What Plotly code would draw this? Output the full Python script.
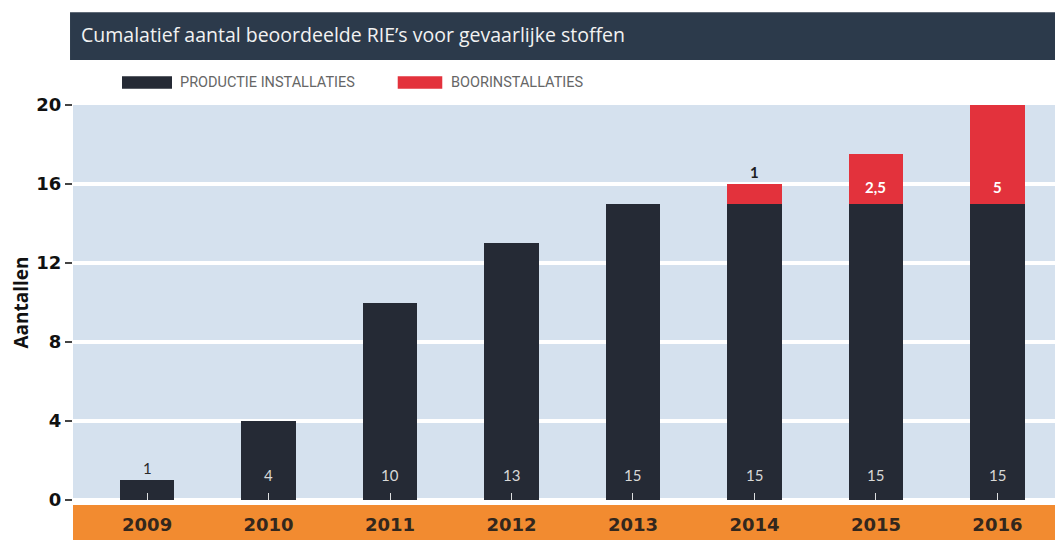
import plotly.graph_objects as go

years = ["2009", "2010", "2011", "2012", "2013", "2014", "2015", "2016"]
productie = [1, 4, 10, 13, 15, 15, 15, 15]
boor = [0, 0, 0, 0, 0, 1, 2.5, 5]
productie_labels = ["1", "4", "10", "13", "15", "15", "15", "15"]
boor_labels = ["", "", "", "", "", "1", "2,5", "5"]
y_ticks = [0, 4, 8, 12, 16, 20]

DARK = "#252a35"
RED = "#e3323c"
BG = "#d5e1ee"
ORANGE = "#f28b30"
BAND = "#2c3a4b"

fig = go.Figure()
fig.add_trace(go.Bar(x=years, y=productie, name="PRODUCTIE INSTALLATIES",
                     marker=dict(color=DARK, line=dict(width=0)), width=0.45,
                     showlegend=False))
fig.add_trace(go.Bar(x=years, y=boor, name="BOORINSTALLATIES",
                     marker=dict(color=RED, line=dict(width=0)), width=0.45,
                     showlegend=False))

annotations = []
for i, (p, lab) in enumerate(zip(productie, productie_labels)):
    if p <= 1:
        annotations.append(dict(x=i, y=p, xref="x", yref="y", text=lab, showarrow=False,
                                yanchor="bottom", yshift=1,
                                font=dict(family="Lato, Open Sans", size=15, color="#2a2a2a")))
    else:
        annotations.append(dict(x=i, y=0, xref="x", yref="y", text=lab, showarrow=False,
                                yanchor="middle", yshift=25,
                                font=dict(family="Lato, Open Sans", size=15, color="#d8d8d8")))
for i, (p, b, lab) in enumerate(zip(productie, boor, boor_labels)):
    if not lab:
        continue
    if b <= 1:
        annotations.append(dict(x=i, y=p + b, xref="x", yref="y", text="<b>" + lab + "</b>",
                                showarrow=False, yanchor="bottom", yshift=1,
                                font=dict(family="Lato, Open Sans", size=15, color="#1e1e1e")))
    else:
        annotations.append(dict(x=i, y=p, xref="x", yref="y", text="<b>" + lab + "</b>",
                                showarrow=False, yanchor="middle", yshift=17,
                                font=dict(family="Lato, Open Sans", size=15, color="white")))

# title band text
annotations.append(dict(x=0.006, y=1.178, xref="paper", yref="paper", xanchor="left",
                        yanchor="middle", showarrow=False,
                        text="Cumalatief aantal beoordeelde RIE’s voor gevaarlijke stoffen",
                        font=dict(family="Open Sans", size=19.5, color="#f2f2f2")))
# legend texts
annotations.append(dict(x=0.106, y=1.058, xref="paper", yref="paper", xanchor="left",
                        yanchor="middle", showarrow=False, text="PRODUCTIE INSTALLATIES",
                        font=dict(family="Roboto", size=14.5, color="#666666")))
annotations.append(dict(x=0.380, y=1.058, xref="paper", yref="paper", xanchor="left",
                        yanchor="middle", showarrow=False, text="BOORINSTALLATIES",
                        font=dict(family="Roboto", size=14.5, color="#666666")))

shapes = [
    dict(type="rect", xref="paper", yref="paper", x0=-0.003, x1=1.0, y0=1.114, y1=1.235,
         fillcolor=BAND, line=dict(width=0), layer="above"),
    dict(type="rect", xref="paper", yref="paper", x0=0.0495, x1=0.100, y0=1.041, y1=1.073,
         fillcolor=DARK, line=dict(width=0)),
    dict(type="rect", xref="paper", yref="paper", x0=0.328, x1=0.373, y0=1.041, y1=1.073,
         fillcolor=RED, line=dict(width=0)),
    dict(type="rect", xref="paper", yref="paper", x0=0.0, x1=1.0, y0=-0.12, y1=-0.0127,
         fillcolor=ORANGE, line=dict(width=0), layer="below"),
]

fig.update_layout(
    width=1055, height=532,
    margin=dict(l=65, r=0, t=97, b=40),
    barmode="stack",
    plot_bgcolor=BG,
    paper_bgcolor="white",
    annotations=annotations,
    shapes=shapes,
    xaxis=dict(type="category", range=[-0.61, 7.54], showgrid=False, zeroline=False,
               showline=False, ticks="inside", ticklen=7, tickwidth=1,
               tickcolor="rgba(255,255,255,0.85)", ticklabelstandoff=12,
               tickfont=dict(family="DejaVu Sans", size=18, color="#33271d", weight="bold")),
    yaxis=dict(range=[0, 20], tickvals=y_ticks, showgrid=True, gridcolor="white", gridwidth=4,
               zeroline=True, zerolinecolor="white", zerolinewidth=4, showline=False,
               ticks="outside", ticklen=7, tickwidth=2, tickcolor="#444444",
               tickfont=dict(family="DejaVu Sans", size=18, color="#111111", weight="bold"),
               title=dict(text="Aantallen", standoff=6,
                          font=dict(family="Open Sans", size=19, color="#111111", weight="bold"))),
)

fig.write_html(
    "out.html",
    post_script="document.documentElement.style.overflow='hidden';"
                "document.body.style.overflow='hidden';",
)
